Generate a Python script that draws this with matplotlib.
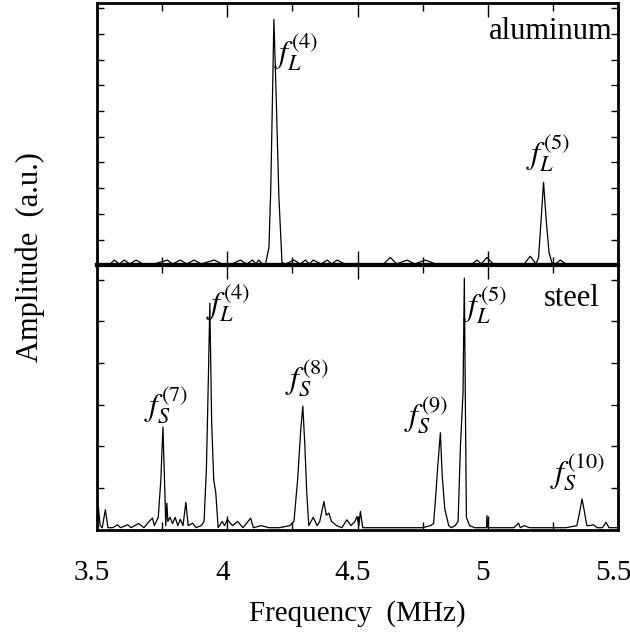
import matplotlib
matplotlib.use("Agg")
import matplotlib.pyplot as plt
import matplotlib.transforms as mtransforms

plt.rcParams['font.family'] = ['Liberation Serif', 'DejaVu Serif']
plt.rcParams['mathtext.fontset'] = 'stix'

# aluminum spectrum (top panel), amplitude in tick units
al_freq = [3.50, 3.55, 3.567, 3.585, 3.605, 3.625, 3.65, 3.675, 3.72, 3.77, 3.79,
           3.82, 3.845, 3.872, 3.90, 3.95, 3.98, 4.02, 4.05, 4.075, 4.097, 4.11,
           4.12, 4.135, 4.147, 4.16, 4.167, 4.172, 4.179, 4.186, 4.198, 4.21,
           4.225, 4.256, 4.28, 4.30, 4.315, 4.33, 4.36, 4.384, 4.40, 4.422, 4.45,
           4.55, 4.60, 4.626, 4.65, 4.69, 4.72, 4.76, 4.80, 4.90, 4.94, 4.959,
           4.975, 4.997, 5.02, 5.10, 5.14, 5.163, 5.185, 5.195, 5.205, 5.214,
           5.224, 5.235, 5.246, 5.26, 5.278, 5.30, 5.40, 5.50]
al_amp = [0.05, 0.05, 0.2, 0.05, 0.2, 0.05, 0.2, 0.05, 0.05, 0.2, 0.05,
          0.2, 0.05, 0.2, 0.05, 0.2, 0.05, 0.05, 0.2, 0.05, 0.2, 0.05,
          0.2, 0.05, 0.05, 0.7, 3.0, 5.7, 9.57, 7.2, 2.7, 0.1,
          0.05, 0.2, 0.05, 0.2, 0.05, 0.2, 0.05, 0.2, 0.05, 0.2, 0.05,
          0.05, 0.05, 0.3, 0.05, 0.2, 0.05, 0.2, 0.05, 0.05, 0.05, 0.2,
          0.05, 0.3, 0.05, 0.05, 0.05, 0.35, 0.05, 0.3, 1.8, 3.23,
          1.8, 0.5, 0.1, 0.05, 0.2, 0.05, 0.05, 0.05]

# steel spectrum (bottom panel)
st_freq = [3.50, 3.505, 3.512, 3.52, 3.532, 3.542, 3.56, 3.579, 3.59, 3.618, 3.63,
           3.66, 3.68, 3.70, 3.713, 3.72, 3.735, 3.745, 3.753, 3.76, 3.764, 3.768,
           3.772, 3.78, 3.79, 3.80, 3.81, 3.82, 3.83, 3.841, 3.85, 3.867, 3.88,
           3.90, 3.911, 3.92, 3.928, 3.933, 3.94, 3.948, 3.956, 3.965, 3.98, 3.99,
           4.00, 4.02, 4.04, 4.06, 4.09, 4.10, 4.13, 4.16, 4.20, 4.24, 4.256,
           4.27, 4.282, 4.29, 4.298, 4.305, 4.313, 4.33, 4.345, 4.355, 4.371,
           4.38, 4.39, 4.40, 4.42, 4.44, 4.459, 4.475, 4.49, 4.498, 4.505, 4.511,
           4.52, 4.55, 4.60, 4.65, 4.70, 4.75, 4.78, 4.792, 4.80, 4.808, 4.818,
           4.825, 4.835, 4.85, 4.86, 4.875, 4.886, 4.895, 4.905, 4.910, 4.914,
           4.918, 4.93, 4.95, 4.98, 4.995, 4.997, 5.00, 5.05, 5.10, 5.118, 5.125,
           5.14, 5.16, 5.20, 5.25, 5.30, 5.342, 5.352, 5.362, 5.372, 5.38, 5.39,
           5.405, 5.42, 5.44, 5.454, 5.465, 5.50]
st_amp = [0.05, 0.56, 0.1, 0.05, 0.48, 0.05, 0.05, 0.12, 0.05, 0.12, 0.05,
          0.15, 0.05, 0.2, 0.28, 0.1, 0.3, 1.2, 2.47, 1.0, 0.1, 0.64,
          0.2, 0.3, 0.15, 0.3, 0.1, 0.25, 0.1, 0.66, 0.1, 0.16, 0.05,
          0.1, 0.2, 1.5, 3.8, 5.44, 2.6, 1.2, 0.88, 0.05, 0.2, 0.1,
          0.25, 0.1, 0.2, 0.05, 0.28, 0.05, 0.1, 0.05, 0.05, 0.1, 0.2,
          1.2, 2.4, 2.97, 2.0, 0.9, 0.1, 0.3, 0.1, 0.2, 0.68,
          0.35, 0.4, 0.2, 0.1, 0.05, 0.24, 0.1, 0.2, 0.32, 0.1, 0.44,
          0.05, 0.05, 0.05, 0.05, 0.05, 0.05, 0.1, 0.15, 0.8, 1.52, 2.33,
          1.3, 0.5, 0.1, 0.05, 0.1, 0.2, 2.0, 3.3, 6.04, 3.0,
          0.3, 0.1, 0.05, 0.05, 0.05, 0.34, 0.05, 0.05, 0.05, 0.16, 0.05,
          0.1, 0.05, 0.05, 0.05, 0.05, 0.1, 0.4, 0.74, 0.4, 0.1, 0.1,
          0.12, 0.05, 0.05, 0.18, 0.05, 0.05]

al_labels = [(4.18, 8.3, r'$f_L^{(4)}$'), (5.145, 4.4, r'$f_L^{(5)}$')]
st_labels = [(3.68, 3.0, r'$f_S^{(7)}$'), (3.92, 5.45, r'$f_L^{(4)}$'),
             (4.22, 3.65, r'$f_S^{(8)}$'), (4.68, 2.75, r'$f_S^{(9)}$'),
             (4.905, 5.4, r'$f_L^{(5)}$'), (5.24, 1.4, r'$f_S^{(10)}$')]
tick_labels = ['3.5', '4', '4.5', '5', '5.5']

fig = plt.figure(figsize=(6.3, 6.36), dpi=100)
ax1 = fig.add_axes([0.154, 0.583, 0.827, 0.412])
ax2 = fig.add_axes([0.154, 0.167, 0.827, 0.416])

for ax in (ax1, ax2):
    ax.set_xlim(3.5, 5.5)
    ax.set_xticks([3.5, 4, 4.5, 5, 5.5])
    ax.set_xticks([3.75, 4.25, 4.75, 5.25], minor=True)
    ax.tick_params(which='both', direction='in', top=True, right=True,
                   labelsize=21, width=1)
    ax.tick_params(axis='x', which='major', length=10)
    ax.tick_params(axis='x', which='minor', length=6)
    ax.tick_params(axis='y', length=5)
    for s in ax.spines.values():
        s.set_linewidth(2)

ax1.plot(al_freq, al_amp, color='black', lw=0.9)
ax1.set_ylim(0, 10.2)
ax1.set_yticks(range(1, 11))
ax1.set_yticklabels([])
ax1.tick_params(labelbottom=False)
ax1.spines['bottom'].set_linewidth(3)
ax1.text(5.48, 9.1, 'aluminum', fontsize=22, ha='right', va='center')
for x, y, s in al_labels:
    ax1.text(x, y, s, fontsize=23, ha='left', va='center')

ax2.plot(st_freq, st_amp, color='black', lw=0.9)
ax2.set_ylim(0, 6.35)
ax2.set_yticks(range(1, 7))
ax2.set_yticklabels([])
ax2.set_xticklabels(tick_labels)
ax2.tick_params(axis='x', pad=22)
ax2.spines['top'].set_linewidth(3)
ax2.text(5.43, 5.56, 'steel', fontsize=22, ha='right', va='center')
for x, y, s in st_labels:
    ax2.text(x, y, s, fontsize=23, ha='left', va='center')
ax2.set_xlabel('Frequency  (MHz)', fontsize=21, labelpad=10)

shift = mtransforms.ScaledTranslation(-5 / 100, 0, fig.dpi_scale_trans)
for lab in ax2.get_xticklabels():
    lab.set_transform(lab.get_transform() + shift)

fig.text(0.048, 0.596, 'Amplitude  (a.u.)', fontsize=22, rotation=90,
         ha='center', va='center')

fig.savefig('out.png', dpi=100)
